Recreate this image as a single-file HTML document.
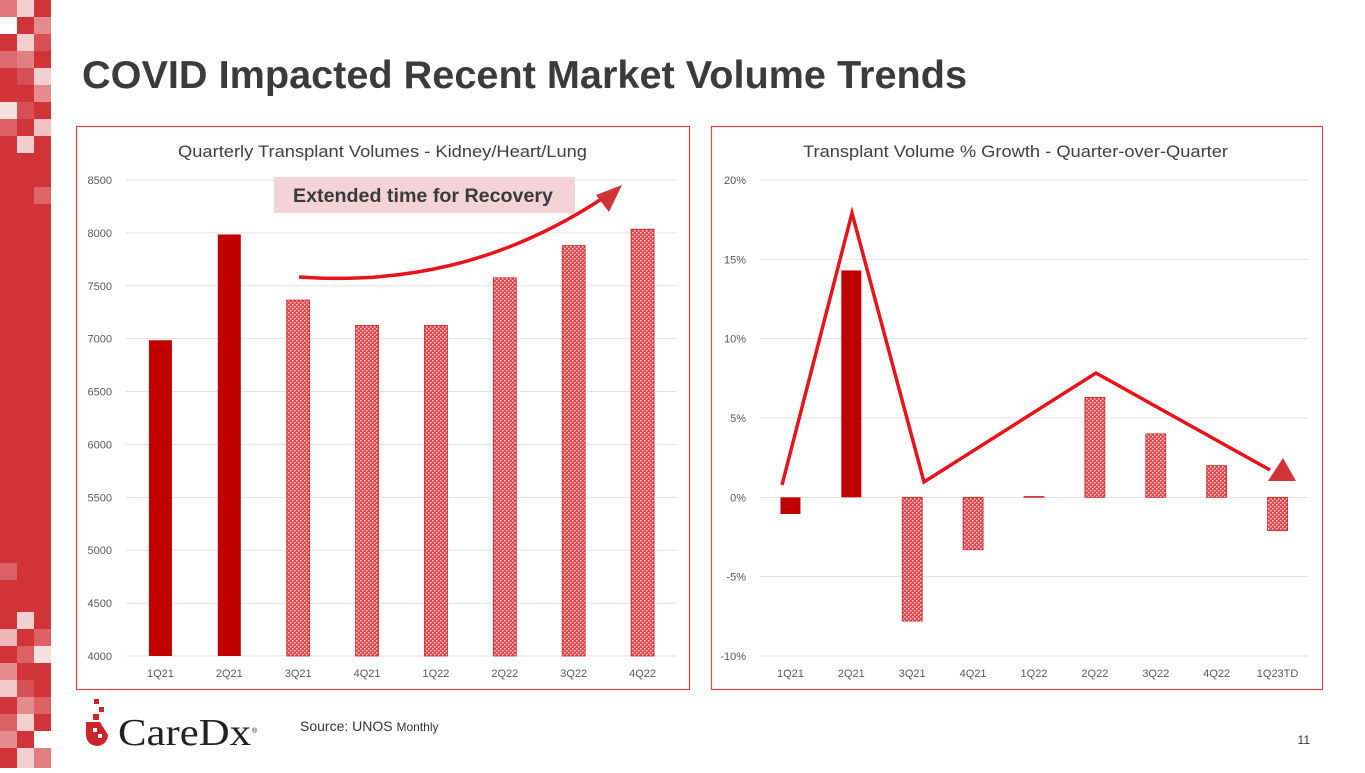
<!DOCTYPE html>
<html><head><meta charset="utf-8"><style>
html,body{margin:0;padding:0;background:#fff;}
body{width:1365px;height:768px;position:relative;overflow:hidden;font-family:"Liberation Sans",sans-serif;}
svg text{font-family:"Liberation Sans",sans-serif;}
</style></head><body>
<svg width="1365" height="768" viewBox="0 0 1365 768" xmlns="http://www.w3.org/2000/svg">
<defs>
<pattern id="dots" width="4" height="4" patternUnits="userSpaceOnUse">
<rect width="4" height="4" fill="#dc4a50"/>
<rect x="0" y="0" width="1.5" height="1.5" fill="#f6c8ca"/>
<rect x="2" y="2" width="1.5" height="1.5" fill="#f6c8ca"/>
</pattern>
</defs>
<g id="sidebar"></g>
<text x="82" y="88" font-size="39" font-weight="bold" fill="#3b3b3b" textLength="885" lengthAdjust="spacingAndGlyphs">COVID Impacted Recent Market Volume Trends</text>

<rect x="76.5" y="126.5" width="613" height="563" fill="none" stroke="#d9474c" stroke-width="1.2"/>
<text x="178" y="157" font-size="16.5" fill="#404040" textLength="409" lengthAdjust="spacingAndGlyphs">Quarterly Transplant Volumes - Kidney/Heart/Lung</text>
<g id="left"></g>
<rect x="274" y="177" width="301" height="36" fill="#f4d3d6"/>
<text x="293" y="202" font-size="19" font-weight="bold" fill="#3a3a3a" textLength="260" lengthAdjust="spacingAndGlyphs">Extended time for Recovery</text>
<path d="M299,277 C400,284 500,265 600,200" fill="none" stroke="#e8141c" stroke-width="3.5"/>
<polygon points="622,185 596,195 609,212" fill="#d13438"/>

<rect x="711.5" y="126.5" width="611" height="563" fill="none" stroke="#d9474c" stroke-width="1.2"/>
<text x="803" y="157" font-size="16.5" fill="#404040" textLength="425" lengthAdjust="spacingAndGlyphs">Transplant Volume % Growth - Quarter-over-Quarter</text>
<g id="right"></g>
<polyline points="782,485 852,213 924,482 1096,373 1270,470" fill="none" stroke="#e8141c" stroke-width="3.5" stroke-linejoin="miter"/>
<polygon points="1296,481 1268,481 1283,458" fill="#d13438"/>

<g>
<rect x="94" y="699" width="5" height="5" fill="#c8262c"/>
<rect x="99" y="707" width="5" height="5" fill="#c8262c"/>
<rect x="93" y="714" width="6" height="6" fill="#c8262c"/>
<path d="M86,722 L100,722 L108,735 A11,11 0 1 1 86,735 Z" fill="#c8262c"/>
<rect x="93" y="728" width="4" height="4" fill="#fff"/>
<rect x="98" y="734" width="4" height="4" fill="#fff"/>
<text x="118" y="745" font-size="38" fill="#222" textLength="133" lengthAdjust="spacingAndGlyphs" style="font-family:'Liberation Serif',serif">CareDx</text>
<text x="252" y="733" font-size="7" fill="#222">®</text>
</g>
<text x="300" y="731" font-size="14" fill="#333">Source: UNOS <tspan font-size="12">Monthly</tspan></text>
<text x="1310" y="744" font-size="12" fill="#333" text-anchor="end">11</text>
</svg>
<script>
const NS="http://www.w3.org/2000/svg";
function mk(tag,attrs,parent){const e=document.createElementNS(NS,tag);for(const k in attrs)e.setAttribute(k,attrs[k]);parent.appendChild(e);return e;}

const R='#d13438';
const mosaicTop=[['#e0787c','#f3cfd0',R],['#fff',R,'#e58a8d'],[R,'#f3cfd0','#d65056'],['#df6b70','#e07e81',R],[R,'#d65056','#f3cfd0'],[R,R,'#e58a8d'],['#f7e0e0','#d65056',R],['#dc6066',R,'#f0c2c3'],[R,'#f3cfd0',R],[R,R,R],[R,R,R],[R,R,'#dd6468']];
const mosaicBottom=[['#eeb8ba',R,'#dc6066'],[R,'#dc6066','#f7e0e0'],['#e58a8d',R,R],['#f0c8ca','#d65056',R],[R,'#e58a8d','#dc6066'],['#dc6066','#f3cfd0',R],['#e58a8d',R,'#fff'],[R,'#f3cfd0','#e07e81']];
const sb=document.getElementById('sidebar');
mk('rect',{x:0,y:0,width:51,height:768,fill:R},sb);
mosaicTop.forEach((row,r)=>row.forEach((c,i)=>mk('rect',{x:i*17,y:r*17,width:17,height:17,fill:c},sb)));
mk('rect',{x:0,y:563,width:17,height:17,fill:'#dc6066'},sb);
mk('rect',{x:17,y:612,width:17,height:17,fill:'#f3cfd0'},sb);
mosaicBottom.forEach((row,r)=>row.forEach((c,i)=>mk('rect',{x:i*17,y:629+r*17,width:17,height:r==7?22:17,fill:c},sb)));

const volCats=['1Q21','2Q21','3Q21','4Q21','1Q22','2Q22','3Q22','4Q22'];
const volValues=[6985,7985,7365,7125,7125,7575,7880,8035];
const volTicks=[4000,4500,5000,5500,6000,6500,7000,7500,8000,8500];
const volSolid=[true,true,false,false,false,false,false,false];

const gCats=['1Q21','2Q21','3Q21','4Q21','1Q22','2Q22','3Q22','4Q22','1Q23TD'];
const gValues=[-1.05,14.3,-7.8,-3.3,0.05,6.3,4.0,2.0,-2.1];
const gTicks=[-10,-5,0,5,10,15,20];
const gTickLabels=['-10%','-5%','0%','5%','10%','15%','20%'];
const gSolid=[true,true,false,false,false,false,false,false,false];

function drawChart(g,cats,vals,ticks,labels,solid,x0,x1,y0,y1,vmin,vmax,bw,prefix){
  const y=v=>y1-(v-vmin)/(vmax-vmin)*(y1-y0);
  const step=(x1-x0)/cats.length;
  const x=i=>x0+step*(i+0.5);
  ticks.forEach((t,i)=>{
    const l=mk('line',{x1:x0,x2:x1,y1:y(t),y2:y(t),stroke:'#e3e3e3','stroke-width':1},g);
    
    
    const tx=mk('text',{x:x0-14,y:y(t)+4,'font-size':11,fill:'#595959','text-anchor':'end'},g);
    tx.textContent=labels[i];
    
    
  });
  const base=Math.max(vmin,0);
  vals.forEach((v,i)=>{
    const top=Math.min(y(v),y(base)),h=Math.max(Math.abs(y(v)-y(base)),0.8);
    const r=mk('rect',{x:x(i)-bw/2,y:top,width:bw,height:h,fill:solid[i]?'#c00000':'url(#dots)',stroke:solid[i]?'none':'#c8262c','stroke-width':0.8},g);
    
    
    const tx=mk('text',{x:x(i),y:y1+21,'font-size':11,fill:'#595959','text-anchor':'middle'},g);
    tx.textContent=cats[i];
    
    
  });
}
drawChart(document.getElementById('left'),volCats,volValues,volTicks,volTicks.map(String),volSolid,126,677,180,656,4000,8500,23,'volume');
drawChart(document.getElementById('right'),gCats,gValues,gTicks,gTickLabels,gSolid,760,1308,180,656,-10,20,20,'growth');
</script>
</body></html>
